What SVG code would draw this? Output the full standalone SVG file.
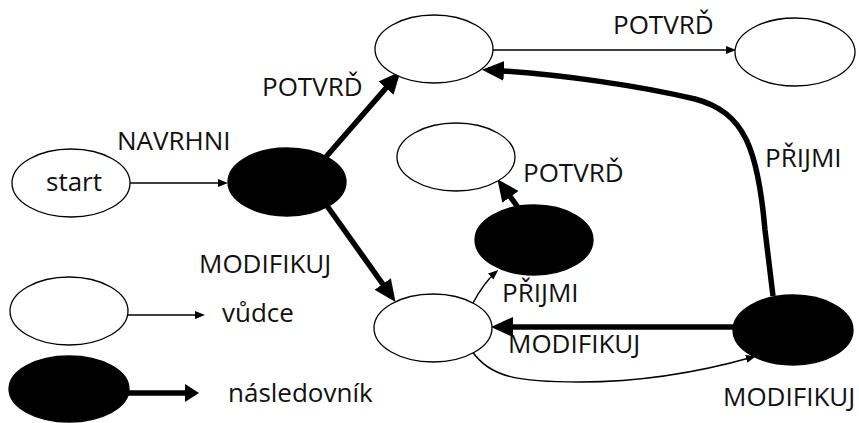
<svg xmlns="http://www.w3.org/2000/svg" width="859" height="423" viewBox="0 0 859 423">
<defs>
<style>
.w{fill:#fff;stroke:#000;stroke-width:1.3}
.b{fill:#000;stroke:#000;stroke-width:1.3}
.thin{fill:none;stroke:#000;stroke-width:1.5}
.thick{fill:none;stroke:#000;stroke-width:5.5}
.t{font-family:"Open Sans","Noto Sans",sans-serif;font-size:26px;fill:#111}
</style>
<marker id="ah" markerUnits="userSpaceOnUse" markerWidth="10" markerHeight="10" viewBox="0 0 10 10" refX="7" refY="5" orient="auto"><path d="M0,1 L10,5 L0,9 z" fill="#000"/></marker>
<marker id="AH" markerUnits="userSpaceOnUse" markerWidth="22" markerHeight="22" viewBox="0 0 22 22" refX="16" refY="11" orient="auto"><path d="M0,1 L22,11 L0,21 z" fill="#000"/></marker>
<marker id="AHs" markerUnits="userSpaceOnUse" markerWidth="14" markerHeight="18" viewBox="0 0 14 18" refX="10" refY="9" orient="auto"><path d="M0,0 L14,9 L0,18 z" fill="#000"/></marker>
</defs>
<g id="connectors">
<path class="thin" d="M130,183 L225,183" marker-end="url(#ah)"/>
<path class="thick" d="M325,158 L396.5,76" marker-end="url(#AH)"/>
<path class="thick" d="M325,203 L392,297" marker-end="url(#AH)"/>
<path class="thin" d="M493,50 L733,50" marker-end="url(#ah)"/>
<path class="thick" d="M773,296 L765,230 C758,150 745,112 695,99 C640,86 560,74 488,70" marker-end="url(#AH)"/>
<path class="thick" d="M736,327 L497,327" marker-end="url(#AH)"/>
<path class="thick" d="M525,217 L501,184" marker-end="url(#AH)"/>
<path class="thin" d="M472,351 C490,378 520,382 580,382 C640,382 700,372 753,357" marker-end="url(#ah)"/>
<path class="thin" d="M473,303 C480,290 489,278 496,272" marker-end="url(#ah)"/>
<path class="thin" d="M127,315 L202,315" marker-end="url(#ah)"/>
<path class="thick" d="M128,393 L195,393" marker-end="url(#AHs)"/>
</g>
<g id="n-start"><ellipse class="w" cx="71" cy="183" rx="59" ry="34"/><text class="t" x="74" y="191" text-anchor="middle">start</text></g>
<g id="n-f1"><ellipse class="b" cx="287" cy="182" rx="59" ry="34"/></g>
<g id="n-l1"><ellipse class="w" cx="434" cy="49" rx="59" ry="34"/></g>
<g id="n-l2"><ellipse class="w" cx="795" cy="52" rx="60" ry="34"/></g>
<g id="n-l3"><ellipse class="w" cx="456" cy="157" rx="59" ry="34"/></g>
<g id="n-f2"><ellipse class="b" cx="534" cy="240" rx="59" ry="35"/></g>
<g id="n-l4"><ellipse class="w" cx="433" cy="328" rx="59" ry="34"/></g>
<g id="n-f3"><ellipse class="b" cx="793" cy="330" rx="60" ry="35"/></g>
<g id="legend-leader"><ellipse class="w" cx="69" cy="311" rx="59" ry="34"/><text class="t" x="222" y="322">vůdce</text></g>
<g id="legend-follower"><ellipse class="b" cx="69" cy="389" rx="60" ry="33"/><text class="t" x="228" y="402">následovník</text></g>
<g id="labels">
<text class="t" x="117" y="150">NAVRHNI</text>
<text class="t" x="262" y="96">POTVRĎ</text>
<text class="t" x="613" y="34">POTVRĎ</text>
<text class="t" x="523" y="182">POTVRĎ</text>
<text class="t" x="765" y="167">PŘIJMI</text>
<text class="t" x="199" y="273">MODIFIKUJ</text>
<text class="t" x="502" y="302">PŘIJMI</text>
<text class="t" x="508" y="353">MODIFIKUJ</text>
<text class="t" x="723" y="406">MODIFIKUJ</text>
</g>
</svg>
